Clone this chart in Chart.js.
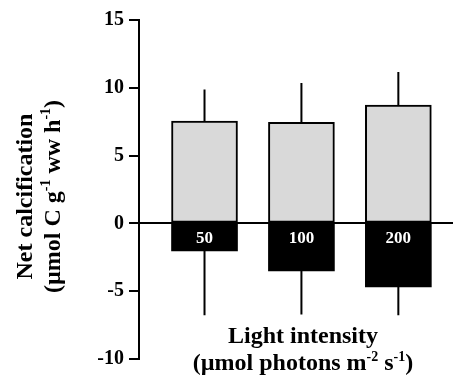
<!DOCTYPE html>
<html>
<head>
<meta charset="utf-8">
<script src="https://cdn.jsdelivr.net/npm/chart.js@4.4.0/dist/chart.umd.min.js"></script>
<style>
  html, body { margin: 0; padding: 0; background: #fff; }
  #wrap { width: 453px; height: 379px; position: relative; }
</style>
</head>
<body>
<div id="wrap"><canvas id="chart"></canvas></div>
<script>
// light intensity levels (shown inside the black bars)
const categories = ['50', '100', '200'];
// net calcification in light (grey) and dark (black), with SD
const lightValues = [7.54, 7.46, 8.72];
const lightErr = [2.33, 2.9, 2.45];
const darkValues = [-2.03, -3.5, -4.68];
const darkErr = [4.74, 3.22, 2.09];
const yTicks = [-10, -5, 0, 5, 10, 15];

const SERIF = "'Liberation Serif', 'Times New Roman', serif";

// draw a line of text with superscript parts, centred on x
function richText(ctx, parts, x, y, size) {
    const supSize = Math.round(size * 0.6);
    let total = 0;
    parts.forEach(p => {
        ctx.font = 'bold ' + (p.sup ? supSize : size) + 'px ' + SERIF;
        p.w = ctx.measureText(p.t).width;
        total += p.w;
    });
    let cx = x - total / 2;
    ctx.textAlign = 'left';
    ctx.textBaseline = 'alphabetic';
    parts.forEach(p => {
        ctx.font = 'bold ' + (p.sup ? supSize : size) + 'px ' + SERIF;
        ctx.fillText(p.t, cx, p.sup ? y - size * 0.38 : y);
        cx += p.w;
    });
}

const extrasPlugin = {
    id: 'extras',
    afterDatasetsDraw(chart) {
        const ctx = chart.ctx;
        const xs = chart.scales.x;
        const ys = chart.scales.y;
        ctx.save();
        ctx.strokeStyle = '#000';
        ctx.lineWidth = 2;
        categories.forEach((c, i) => {
            const px = xs.getPixelForValue(i);
            // error bars, outward only
            ctx.beginPath();
            ctx.moveTo(px, ys.getPixelForValue(lightValues[i]));
            ctx.lineTo(px, ys.getPixelForValue(lightValues[i] + lightErr[i]));
            ctx.moveTo(px, ys.getPixelForValue(darkValues[i]));
            ctx.lineTo(px, ys.getPixelForValue(darkValues[i] - darkErr[i]));
            ctx.stroke();
            // category label in the dark bar
            ctx.fillStyle = '#fff';
            ctx.font = 'bold 17px ' + SERIF;
            ctx.textAlign = 'center';
            ctx.textBaseline = 'middle';
            ctx.fillText(c, px, ys.getPixelForValue(0) + 15);
        });
        ctx.restore();
    },
    afterDraw(chart) {
        const ctx = chart.ctx;
        ctx.save();
        ctx.fillStyle = '#000';
        // x title
        richText(ctx, [{ t: 'Light intensity' }], 303, 343, 24);
        richText(ctx, [
            { t: '(\u00b5mol photons m' }, { t: '-2', sup: true },
            { t: ' s' }, { t: '-1', sup: true }, { t: ')' }
        ], 303, 370, 24);
        // y title, rotated
        ctx.translate(0, 196.5);
        ctx.rotate(-Math.PI / 2);
        richText(ctx, [{ t: 'Net calcification' }], 0, 31.5, 24);
        richText(ctx, [
            { t: '(\u00b5mol C g' }, { t: '-1', sup: true },
            { t: ' ww h' }, { t: '-1', sup: true }, { t: ')' }
        ], 0, 59.5, 24);
        ctx.restore();
    }
};

new Chart(document.getElementById('chart'), {
    type: 'bar',
    data: {
        datasets: [{
            label: 'Light',
            data: lightValues.map((v, i) => ({ x: i, y: v })),
            backgroundColor: '#d9d9d9',
            borderColor: '#000',
            borderWidth: 2,
            borderSkipped: false,
            barThickness: 66,
            grouped: false
        }, {
            label: 'Dark',
            data: darkValues.map((v, i) => ({ x: i, y: v })),
            backgroundColor: '#000',
            borderColor: '#000',
            borderWidth: 0,
            barThickness: 66,
            grouped: false
        }]
    },
    options: {
        responsive: true,
        maintainAspectRatio: false,
        animation: false,
        devicePixelRatio: 1,
        layout: { padding: { top: 20, bottom: 20, left: 0, right: 0 } },
        plugins: {
            legend: { display: false },
            tooltip: { enabled: false }
        },
        scales: {
            x: {
                type: 'linear',
                display: false,
                offset: false,
                min: -0.676,
                max: 2.564
            },
            y: {
                min: -10,
                max: 15,
                afterBuildTicks: s => { s.ticks = yTicks.map(v => ({ value: v })); },
                afterFit: s => { s.width = 139; },
                ticks: {
                    color: '#000',
                    padding: 5,
                    font: { family: SERIF, weight: 'bold', size: 20 }
                },
                grid: {
                    color: c => (c.tick && c.tick.value === 0) ? '#000' : 'rgba(0,0,0,0)',
                    lineWidth: 2,
                    tickColor: '#000',
                    tickLength: 10,
                    tickWidth: 2
                },
                border: { color: '#000', width: 2 }
            }
        }
    },
    plugins: [extrasPlugin]
});
</script>
</body>
</html>
